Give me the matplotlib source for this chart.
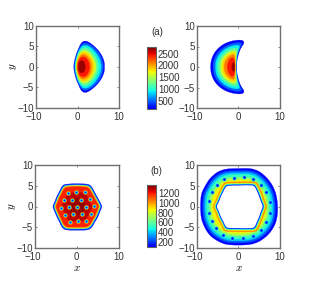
import matplotlib
matplotlib.use("Agg")
import matplotlib.pyplot as plt
from matplotlib.patches import PathPatch
from matplotlib.path import Path
from matplotlib.colors import Normalize, LinearSegmentedColormap
from matplotlib.cm import ScalarMappable
from matplotlib.transforms import ScaledTranslation
import numpy as np

plt.rcParams['font.family'] = ['Liberation Sans', 'DejaVu Sans']
plt.rcParams['mathtext.fontset'] = 'cm'

W, H = 309, 299
X_TICKS = [-10, 0, 10]
Y_TICKS = [-10, -5, 0, 5, 10]
RANGE_A = (160, 2772)
RANGE_B = (84, 1372)
BAR_TICKS_A = [500, 1000, 1500, 2000, 2500]
BAR_TICKS_B = [200, 400, 600, 800, 1000, 1200]

# panel (a) left: density contours, upper half (mirrored in y)
A_LEFT_LEVELS = [200, 500, 900, 1200, 1600, 1860, 2120, 2430, 2700]
A_LEFT_X = [
    [-0.9, -0.7, -0.3, 0.3, 0.9, 1.6, 2.4, 3.5, 4.8, 5.8, 6.4, 6.5],
    [-0.75, -0.55, -0.15, 0.45, 1.1, 1.8, 2.6, 3.7, 4.9, 5.7, 6.1, 6.2],
    [-0.6, -0.4, 0, 0.55, 1.2, 1.9, 2.8, 3.8, 4.7, 5.3, 5.6, 5.7],
    [-0.5, -0.3, 0.1, 0.6, 1.2, 1.9, 2.7, 3.6, 4.4, 4.9, 5.05],
    [-0.35, -0.15, 0.2, 0.7, 1.3, 1.9, 2.6, 3.3, 4.0, 4.35, 4.45],
    [-0.25, -0.05, 0.3, 0.8, 1.3, 1.9, 2.6, 3.3, 3.75, 3.95],
    [-0.15, 0.05, 0.4, 0.9, 1.4, 2, 2.7, 3.2, 3.4],
    [0, 0.15, 0.5, 1, 1.5, 2.1, 2.6, 2.85, 2.9],
    [0.2, 0.3, 0.6, 1, 1.4, 1.75, 1.85],
]
A_LEFT_Y = [
    [0, 1.5, 3, 4.5, 5.7, 6.2, 6.1, 5.4, 4.2, 2.8, 1.3, 0],
    [0, 1.5, 3, 4.5, 5.4, 5.75, 5.55, 4.9, 3.7, 2.4, 1.1, 0],
    [0, 1.5, 3, 4.2, 5.0, 5.2, 4.9, 4.1, 3.0, 1.9, 0.9, 0],
    [0, 1.5, 2.9, 3.9, 4.5, 4.65, 4.3, 3.5, 2.4, 1.2, 0],
    [0, 1.5, 2.7, 3.5, 3.9, 3.95, 3.6, 2.9, 1.8, 0.9, 0],
    [0, 1.4, 2.5, 3.2, 3.5, 3.5, 3.0, 2.2, 1.2, 0],
    [0, 1.3, 2.2, 2.8, 3.0, 2.8, 2.2, 1.3, 0],
    [0, 1.1, 1.9, 2.35, 2.4, 2.1, 1.4, 0.6, 0],
    [0, 0.8, 1.3, 1.5, 1.35, 0.8, 0],
]

# panel (a) right: density contours, upper half (mirrored in y)
A_RIGHT_LEVELS = [200, 500, 900, 1200, 1600, 1860, 2120, 2430, 2700]
A_RIGHT_X = [
    [-6.7, -6.5, -5.9, -4.9, -3.6, -2, -0.5, 0.6, 1.25, 1.35, 1.0, 0.4, -0.1, -0.35, -0.4],
    [-6.1, -5.9, -5.3, -4.4, -3.2, -1.8, -0.5, 0.4, 0.8, 0.5, 0.1, -0.3, -0.5, -0.55],
    [-5.5, -5.35, -4.8, -3.9, -2.8, -1.6, -0.6, 0.1, 0.3, 0, -0.35, -0.5, -0.55],
    [-5, -4.8, -4.2, -3.4, -2.4, -1.4, -0.6, -0.2, -0.2, -0.4, -0.55, -0.6],
    [-4.3, -4.15, -3.6, -2.9, -2, -1.2, -0.65, -0.5, -0.6, -0.65, -0.65],
    [-3.85, -3.7, -3.25, -2.6, -1.8, -1.15, -0.8, -0.7, -0.7, -0.7],
    [-3.4, -3.25, -2.8, -2.2, -1.6, -1.1, -0.85, -0.75, -0.75],
    [-2.65, -2.5, -2.2, -1.8, -1.35, -1.0, -0.85, -0.8],
    [-1.55, -1.5, -1.3, -1.05, -0.9, -0.85],
]
A_RIGHT_Y = [
    [0, 1.7, 3.2, 4.5, 5.5, 6.2, 6.5, 6.55, 6.3, 5.8, 5.2, 4.1, 2.5, 1.1, 0],
    [0, 1.6, 3.0, 4.1, 5.0, 5.6, 5.9, 5.9, 5.6, 4.9, 3.9, 2.5, 1.1, 0],
    [0, 1.5, 2.7, 3.8, 4.6, 5.1, 5.3, 5.25, 4.9, 4.0, 2.6, 1.1, 0],
    [0, 1.5, 2.6, 3.5, 4.2, 4.55, 4.65, 4.5, 4.0, 2.7, 1.2, 0],
    [0, 1.3, 2.4, 3.1, 3.7, 3.95, 3.9, 3.4, 2.2, 1, 0],
    [0, 1.2, 2.1, 2.85, 3.35, 3.5, 3.35, 2.6, 1.2, 0],
    [0, 1.1, 1.95, 2.55, 2.9, 2.95, 2.4, 1.2, 0],
    [0, 0.9, 1.6, 2.1, 2.25, 1.8, 0.9, 0],
    [0, 0.6, 1.0, 1.1, 0.6, 0],
]

# panel (b) left: outline, band levels and how far in each band sits
B_LEFT_X = [-5.7, -5.2, -4.7, -4.1, -3.6, -3.0, -1.5, 0, 1.5, 2.8, 3.5, 4.2, 4.9, 5.6, 6, 5.6, 5, 4.3, 3.6, 2.8, 1.5, 0, -1.5, -2.8, -3.5, -4.1, -4.7, -5.3]
B_LEFT_Y = [0, 1.3, 2.6, 3.7, 4.7, 5.25, 5.45, 5.5, 5.45, 5.3, 4.8, 3.6, 2.3, 1.0, 0, -1.1, -2.6, -3.8, -5, -5.55, -5.7, -5.7, -5.7, -5.55, -5, -3.8, -2.6, -1.2]
B_LEFT_LEVELS = [110, 250, 560, 920, 1060, 1190, 1290, 1340]
B_LEFT_SCALES = [1.0, 0.97, 0.94, 0.915, 0.89, 0.86, 0.62, 0.36]
B_LEFT_VX = [-2.08, -0.08, 2.0, -3.12, -1.04, 1.04, 3.2, -3.76, -1.84, 0.16, 2.16, 4.16,
             -2.88, -0.8, 1.2, 3.36, -1.68, 0.32, 2.32]
B_LEFT_VY = [3.28, 3.44, 3.44, 1.6, 1.6, 1.68, 1.92, -0.32, -0.24, -0.16, 0, 0.08,
             -2.08, -1.84, -1.84, -1.76, -3.68, -3.6, -3.44]

# panel (b) right: outer outline and inner hole
B_RIGHT_OUT_X = [0, 3, 5, 6.8, 8.2, 9.0, 9.4, 9.35, 8.9, 8, 6.8, 5, 3, 0, -3, -5, -6.8, -8, -8.9, -9.15, -8.9, -8, -6.8, -5, -3]
B_RIGHT_OUT_Y = [9.15, 9.1, 8.4, 6.9, 5, 3, 0.5, -2, -4, -5.7, -7.1, -8.4, -9.1, -9.3, -9.1, -8.3, -7, -5.3, -3, 0, 3, 5, 6.8, 8.3, 9]
B_RIGHT_OUT_LEVELS = [100, 240, 400, 540, 680, 800, 870]
B_RIGHT_OUT_SCALES = [1.0, 0.94, 0.89, 0.84, 0.77, 0.72, 0.68]
B_RIGHT_HOLE_X = [-5.2, -4.7, -4.2, -3.6, -3.05, -2.4, 0, 3.1, 3.8, 4.4, 4.9, 5.4, 5.8, 5.4, 4.9, 4.4, 3.8, 3.1, 0, -2.4, -3.05, -3.6, -4.2, -4.7]
B_RIGHT_HOLE_Y = [0, 1.25, 2.5, 3.7, 4.7, 5.0, 5.05, 5.1, 4.85, 3.8, 2.6, 1.2, 0, -1.2, -2.6, -3.8, -4.95, -5.2, -5.2, -5.15, -4.85, -3.7, -2.6, -1.25]
B_RIGHT_HOLE_LEVELS = [1020, 860, 620, 430, 130]
B_RIGHT_HOLE_SCALES = [1.17, 1.11, 1.08, 1.055, 1.03]
B_RIGHT_VX = [-3.44, -1.12, 1.29, 3.61, 5.38, 6.59, 7.55, 7.55, 6.59, 5.46, 3.53, 1.04, -1.45, -3.78, -5.38, -6.5, -7.2, -7.07, -6.35, -5.3]
B_RIGHT_VY = [6.58, 6.98, 7.07, 6.58, 5.3, 3.45, 1.12, -1.45, -3.78, -5.7, -7.07, -7.47, -7.47, -6.75, -5.22, -3.45, -1.45, 1.28, 3.45, 5.3]


def smooth_path(x, y):
    pts = np.column_stack([x, y]).astype(float)
    n = len(pts)
    tang = []
    for i in range(n):
        d = pts[(i + 1) % n] - pts[i - 1]
        tang.append(d / (np.hypot(*d) + 1e-9))
    verts = [pts[0]]
    codes = [Path.MOVETO]
    for i in range(n):
        p1, p2 = pts[i], pts[(i + 1) % n]
        h = np.hypot(*(p2 - p1)) / 3
        verts += [p1 + tang[i] * h, p2 - tang[(i + 1) % n] * h, p2]
        codes += [Path.CURVE4] * 3
    return Path(verts, codes)


def mirror(x, y):
    x, y = list(x), list(y)
    return x + x[-2:0:-1], y + [-v for v in y[-2:0:-1]]


def minus(v):
    return '\u2212' + str(-v) if v < 0 else str(v)


def panel(box):
    l, t, r, b = box
    ax = fig.add_axes([l / W, 1 - b / H, (r - l) / W, (b - t) / H])
    ax.set_xlim(-10, 10)
    ax.set_ylim(-10, 10)
    ax.set_xticks(X_TICKS)
    ax.set_yticks(Y_TICKS)
    ax.set_xticklabels([minus(v) for v in X_TICKS])
    ax.set_yticklabels([minus(v) for v in Y_TICKS])
    ax.tick_params(direction='in', length=1.2, width=0.5, top=True, right=True,
                   labelsize=7, colors='#333333', color='#555555')
    ax.tick_params(axis='x', pad=3.2)
    ax.tick_params(axis='y', pad=1.5)
    first = ax.get_xticklabels()[0]
    first.set_transform(first.get_transform() + ScaledTranslation(-2.5 / 100, 0, fig.dpi_scale_trans))
    for s in ax.spines.values():
        s.set_linewidth(1.0)
        s.set_color('#707070')
    return ax


def fill(ax, x, y, value, cmap, norm, z):
    c = cmap(norm(value))
    ax.add_patch(PathPatch(smooth_path(x, y), facecolor=c, edgecolor=c, linewidth=0.2, zorder=z))


def nested(ax, xs, ys, levels, cmap, norm):
    for i, (x, y, v) in enumerate(zip(xs, ys, levels)):
        mx, my = mirror(x, y)
        fill(ax, mx, my, v, cmap, norm, 2 + i)


def scaled(x, y, s):
    return [v * s for v in x], [v * s for v in y]


def colorbar(box, rng, ticks, label, label_xy):
    l, t, r, b = box
    cax = fig.add_axes([l / W, 1 - b / H, (r - l) / W, (b - t) / H])
    sm = ScalarMappable(norm=Normalize(*rng), cmap=jet)
    cb = fig.colorbar(sm, cax=cax, ticks=ticks)
    cb.ax.tick_params(length=0, labelsize=7, pad=1.6, colors='#333333')
    cb.outline.set_linewidth(0.8)
    cb.outline.set_edgecolor('#606060')
    fig.text(label_xy[0] / W, 1 - label_xy[1] / H, label, fontsize=7, color='#333333',
             ha='center', va='center')


fig = plt.figure(figsize=(W / 100, H / 100), dpi=100)
jet = LinearSegmentedColormap.from_list('jet_b', plt.get_cmap('jet')(np.linspace(0.11, 1, 256)))
norm_a = Normalize(*RANGE_A)
norm_b = Normalize(*RANGE_B)

# top row
ax = panel((36, 25.5, 119, 108))
nested(ax, A_LEFT_X, A_LEFT_Y, A_LEFT_LEVELS, jet, norm_a)
ax.set_ylabel(r'$y$', fontsize=8, labelpad=-1)

ax = panel((197, 26, 279.5, 108))
nested(ax, A_RIGHT_X, A_RIGHT_Y, A_RIGHT_LEVELS, jet, norm_a)

colorbar((146.7, 47.3, 155.7, 108.7), RANGE_A, BAR_TICKS_A, '(a)', (157, 31.7))

# bottom row
ax = panel((35, 165, 118.5, 248))
for i, (s, v) in enumerate(zip(B_LEFT_SCALES, B_LEFT_LEVELS)):
    x, y = scaled(B_LEFT_X, B_LEFT_Y, s)
    fill(ax, x, y, v, jet, norm_b, 2 + i)
ax.scatter(B_LEFT_VX, B_LEFT_VY, s=10, color=jet(norm_b(950)), linewidths=0, zorder=20)
ax.scatter(B_LEFT_VX, B_LEFT_VY, s=5.7, color=jet(norm_b(480)), linewidths=0, zorder=21)
ax.scatter(B_LEFT_VX, B_LEFT_VY, s=2.2, color=jet(norm_b(150)), linewidths=0, zorder=22)
ax.set_xlabel(r'$x$', fontsize=8, labelpad=0.5)
ax.set_ylabel(r'$y$', fontsize=8, labelpad=-1)

ax = panel((197, 165, 280, 248))
z = 2
for s, v in zip(B_RIGHT_OUT_SCALES, B_RIGHT_OUT_LEVELS):
    x, y = scaled(B_RIGHT_OUT_X, B_RIGHT_OUT_Y, s)
    fill(ax, x, y, v, jet, norm_b, z)
    z += 1
for s, v in zip(B_RIGHT_HOLE_SCALES, B_RIGHT_HOLE_LEVELS):
    x, y = scaled(B_RIGHT_HOLE_X, B_RIGHT_HOLE_Y, s)
    fill(ax, x, y, v, jet, norm_b, z)
    z += 1
ax.add_patch(PathPatch(smooth_path(B_RIGHT_HOLE_X, B_RIGHT_HOLE_Y), facecolor='white',
                       edgecolor='none', zorder=z))
ax.scatter(B_RIGHT_VX, B_RIGHT_VY, s=8, color=jet(norm_b(430)), linewidths=0, zorder=20)
ax.scatter(B_RIGHT_VX, B_RIGHT_VY, s=3.5, color=jet(norm_b(130)), linewidths=0, zorder=21)
ax.set_xlabel(r'$x$', fontsize=8, labelpad=0.5)

colorbar((146.7, 185, 155.7, 247.3), RANGE_B, BAR_TICKS_B, '(b)', (156, 171))

fig.savefig('out.png', dpi=100)
